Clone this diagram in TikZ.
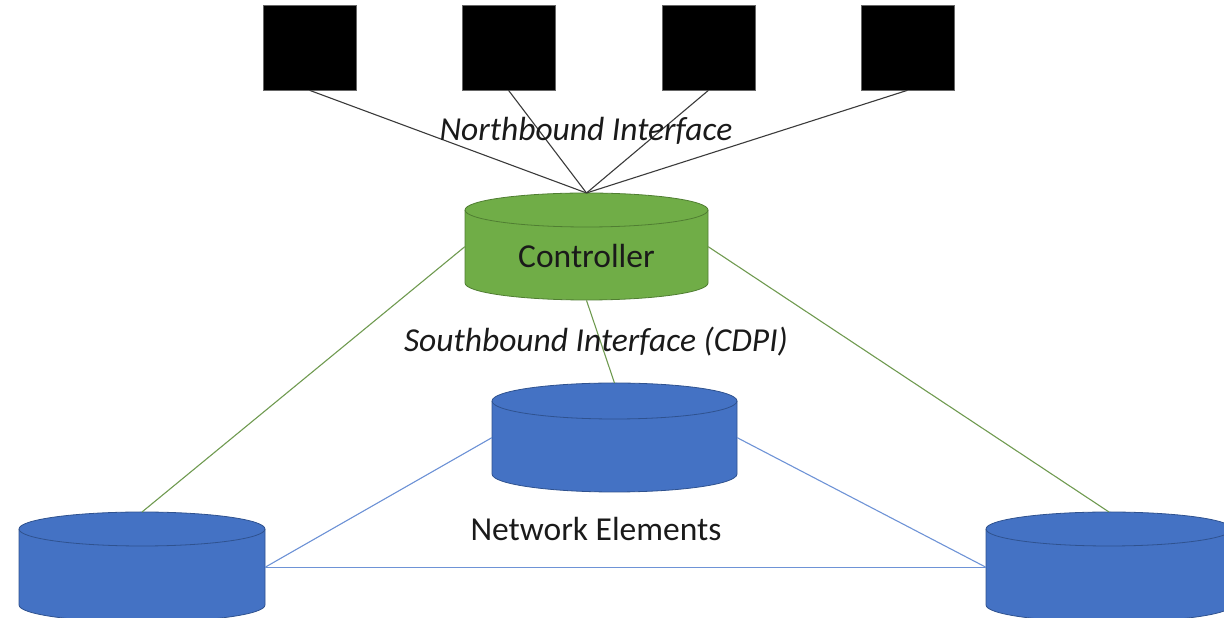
\documentclass[tikz,border=0pt]{standalone}
\usepackage{fontspec}
\setmainfont{Carlito}
\definecolor{ctlgreen}{HTML}{70AD47}
\definecolor{ctledge}{HTML}{507E32}
\definecolor{neblue}{HTML}{4472C4}
\definecolor{needge}{HTML}{2F528F}
\definecolor{nblink}{HTML}{3A3A3A}
\definecolor{sblink}{HTML}{6F9A50}
\definecolor{nelink}{HTML}{6E93D6}
\definecolor{txt}{HTML}{1A1A1A}
\tikzset{
  app/.style={fill=black,draw=black!60,line width=0.6pt,minimum width=93pt,minimum height=85pt,inner sep=0pt},
  drumbox/.style={draw=none,inner sep=0pt,anchor=north},
  nbline/.style={draw=nblink,line width=1.1pt},
  sbline/.style={draw=sblink,line width=1.1pt},
  neline/.style={draw=nelink,line width=1.1pt},
  caption/.style={text=txt,font=\fontsize{33.5}{38}\selectfont\itshape,inner sep=0pt},
  plain/.style={text=txt,font=\fontsize{33.5}{38}\selectfont,inner sep=0pt},
}
% \drum{name}{centre x}{top y}{width}{height}{y radius}{fill}{edge}
\newcommand\drum[8]{%
  \pgfmathsetmacro\drx{#4/2}%
  \filldraw[fill=#7,draw=#8,line width=0.8pt]
    (#2-\drx,#3-#6) -- (#2-\drx,#3-#5+#6)
    arc[start angle=180,end angle=360,x radius=\drx,y radius=#6]
    -- (#2+\drx,#3-#6)
    arc[start angle=0,end angle=180,x radius=\drx,y radius=#6] -- cycle;
  \draw[draw=#8,line width=0.8pt] (#2-\drx,#3-#6)
    arc[start angle=180,end angle=360,x radius=\drx,y radius=#6];
  \node[drumbox,minimum width=#4pt,minimum height=#5pt] (#1) at (#2,#3) {};%
}
\begin{document}
\begin{tikzpicture}[x=1pt,y=1pt]
\useasboundingbox (0,0) rectangle (1224,618);
\clip (0,0) rectangle (1224,618);

% applications
\node[app] (a1) at (309.5,570.5) {};
\node[app] (a2) at (508.5,570.5) {};
\node[app] (a3) at (708.5,570.5) {};
\node[app] (a4) at (907.5,570.5) {};

% controller and network elements
\drum{ctl}{586.5}{425}{243}{107}{17}{ctlgreen}{ctledge}
\drum{nem}{614.5}{235}{245}{109}{18}{neblue}{needge}
\drum{nel}{142}{106}{246}{110}{17}{neblue}{needge}
\drum{ner}{1109}{106}{246}{110}{17}{neblue}{needge}

\node[plain] at ([yshift=-9.5pt]ctl.center) {Controller};

% northbound links
\foreach \a in {a1,a2,a3,a4}
  \draw[nbline] (\a.south) -- (ctl.north);

% southbound links
\draw[sbline] (ctl.west) -- (nel.north);
\draw[sbline] (ctl.east) -- (ner.north);
\draw[sbline] (ctl.south) -- (nem.north);

% links between network elements
\draw[neline] (nem.west) -- (nel.east);
\draw[neline] (nem.east) -- (ner.west);
\draw[neline] (nel.east) -- (ner.west);

% captions
\node[caption] (nb) at (586,487) {Northbound Interface};
\node[caption] (sb) at (596,276) {Southbound Interface (CDPI)};
\node[plain] (ne) at (596,89) {Network Elements};
\end{tikzpicture}
\end{document}
